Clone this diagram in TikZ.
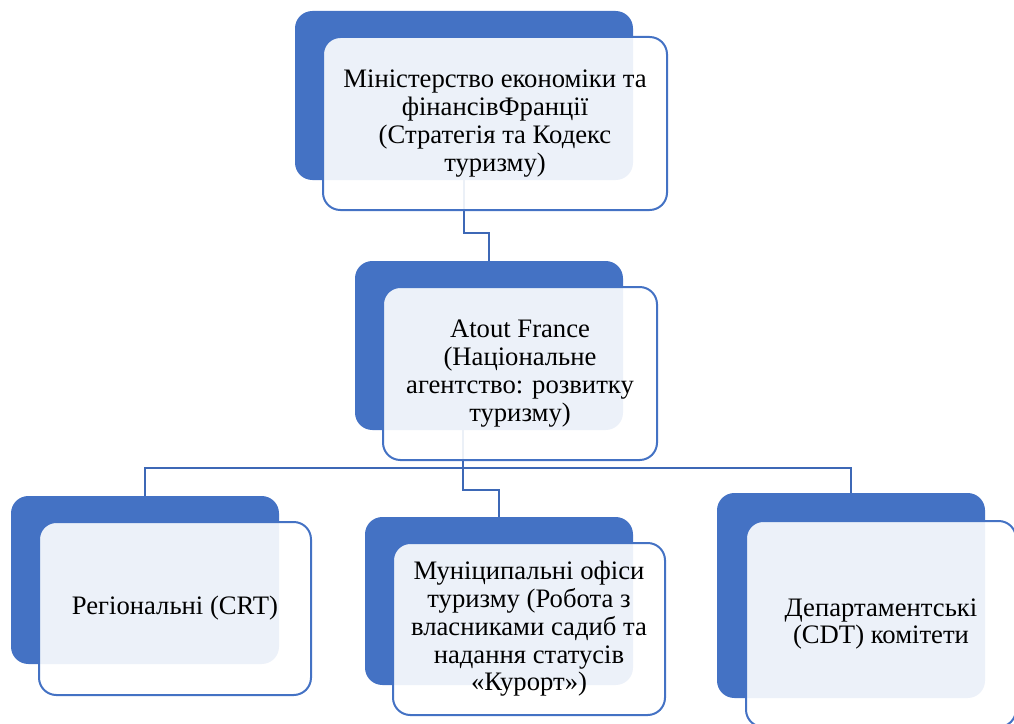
\documentclass[tikz,border=0pt]{standalone}
\usepackage{fontspec}
\setmainfont{Liberation Serif}
\usepackage{xcolor}
\usepackage{tikz}
\usetikzlibrary{positioning}

\definecolor{boxblue}{HTML}{4472C4}
\definecolor{linkblue}{HTML}{3D68B6}
\newcommand{\pxu}{0.75pt}

\begin{document}
\begin{tikzpicture}[x=0.75pt,y=-0.75pt,
	back/.style={rounded corners=13pt, fill=boxblue, inner sep=0pt},
	front/.style={rounded corners=13pt, draw=boxblue, line width=1.5pt, fill=white, fill opacity=0.9, text opacity=1, inner sep=0pt, align=center, font=\fontsize{20}{20.8}\selectfont},
	link/.style={draw=linkblue, line width=1.5pt}]
	\useasboundingbox (0,0) rectangle (1014,724);

	% back boxes
	\node[back, minimum width=338*\pxu, minimum height=169*\pxu] (minB) at (464,95.5) {};
	\node[back, minimum width=268*\pxu, minimum height=169*\pxu] (atoutB) at (489,345.5) {};
	\node[back, minimum width=268*\pxu, minimum height=168*\pxu] (regB) at (145,580) {};
	\node[back, minimum width=268*\pxu, minimum height=168*\pxu] (munB) at (499,601) {};
	\node[back, minimum width=268*\pxu, minimum height=205*\pxu] (depB) at (851,595.5) {};

	% connectors
	\coordinate (topbend) at (464,233);
	\coordinate (split) at (463,468);
	\path[link] (minB.south) -- (topbend) -| (atoutB.north);
	\path[link] (atoutB.south -| split) -- (split);
	\path[link] (split) -| (regB.north);
	\path[link] (split) -| (depB.north);
	\path[link] (split) -- ++(0,22) -| (munB.north);

	% front boxes
	\node[front, minimum width=344*\pxu, minimum height=173*\pxu] (minF) at (495,123.5) {Міністерство економіки та\\фінансівФранції\\(Стратегія та Кодекс\\туризму)};
	\node[front, minimum width=274*\pxu, minimum height=173*\pxu] (atoutF) at (520,373.5) {Atout France\\(Національне\\агентство: розвитку\\туризму)};
	\node[front, minimum width=272*\pxu, minimum height=173*\pxu] (regF) at (175,608.5) {Регіональні (CRT)};
	\node[front, minimum width=272*\pxu, minimum height=172*\pxu] (munF) at (529,629) {Муніципальні офіси\\туризму (Робота з\\власниками садиб та\\надання статусів\\«Курорт»)};
	\node[front, minimum width=270*\pxu, minimum height=206*\pxu] (depF) at (881,624) {Департаментські\\(CDT) комітети};
\end{tikzpicture}
\end{document}
